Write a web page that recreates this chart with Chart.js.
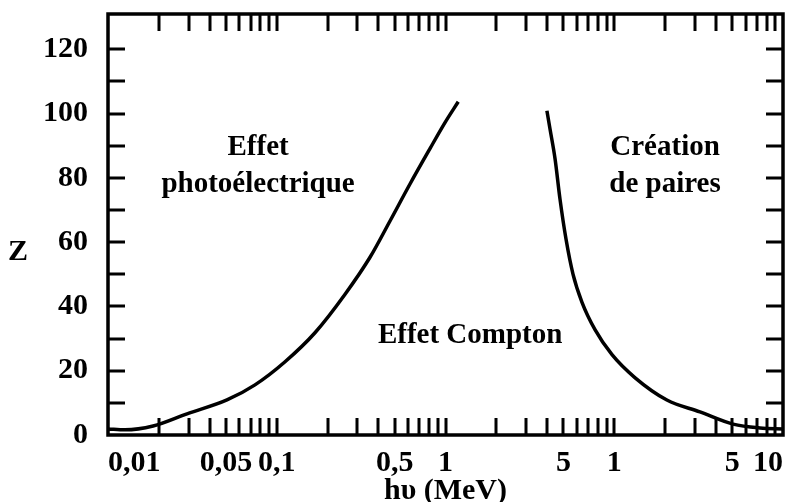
<!DOCTYPE html>
<html>
<head>
<meta charset="utf-8">
<script src="https://cdn.jsdelivr.net/npm/chart.js@4.4.0/dist/chart.umd.min.js"></script>
<style>
  body { margin: 0; background: #fff; }
</style>
</head>
<body>
<canvas id="zChart" width="794" height="502"></canvas>
<script>
// photoelectric / Compton boundary
var leftE = [0.0100, 0.0126, 0.0185, 0.0294, 0.0507, 0.0743, 0.112, 0.169, 0.254, 0.357, 0.469, 0.616, 0.809, 0.993, 1.19];
var leftZ = [1.9, 1.6, 2.8, 6.6, 10.9, 15.6, 22.8, 31.9, 43.8, 55.3, 66.6, 78.1, 89.1, 97.2, 103.7];
// Compton / pair creation boundary
var rightE = [3.99, 4.16, 4.46, 4.77, 5.18, 5.70, 6.44, 7.69, 9.70, 13.3, 20.5, 32.2, 50.6, 73.1, 100];
var rightZ = [100.9, 95.3, 85.9, 73.4, 60.9, 50.0, 41.3, 32.8, 25.0, 17.8, 10.9, 7.2, 3.4, 2.2, 1.9];

var xTickValues = [0.01, 0.05, 0.1, 0.5, 1, 5, 10, 50, 100];
var xTickLabels = ["0,01", "0,05", "0,1", "0,5", "1", "5", "1", "5", "10"];
var yTickValues = [0, 20, 40, 60, 80, 100, 120];

function pts(xs, ys) {
  return xs.map(function (x, i) { return { x: x, y: ys[i] }; });
}

var FONT = '"Liberation Serif", "Times New Roman", serif';

// frame, inward tick marks and the region names
var framePlugin = {
  id: 'frame',
  afterDraw: function (chart, args, opts) {
    var c = chart.ctx, a = chart.chartArea;
    var xs = chart.scales.x, ys = chart.scales.y;
    var len = 17;
    c.save();
    c.strokeStyle = '#000';
    c.lineWidth = 3;
    c.beginPath();
    for (var k = -2; k <= 1; k++) {
      for (var m = 1; m <= 9; m++) {
        var v = m * Math.pow(10, k);
        if (v <= 0.0101) continue;
        var px = Math.round(xs.getPixelForValue(v));
        c.moveTo(px, a.bottom); c.lineTo(px, a.bottom - len);
        c.moveTo(px, a.top); c.lineTo(px, a.top + len);
      }
    }
    for (var z = 10; z <= 120; z += 10) {
      var py = Math.round(ys.getPixelForValue(z));
      c.moveTo(a.left, py); c.lineTo(a.left + len, py);
      c.moveTo(a.right, py); c.lineTo(a.right - len, py);
    }
    c.stroke();
    c.lineWidth = 3.5;
    c.strokeRect(a.left, a.top, a.right - a.left, a.bottom - a.top);

    c.fillStyle = '#000';
    c.textAlign = 'center';
    c.textBaseline = 'middle';
    c.font = 'bold 29px ' + FONT;
    opts.labels.forEach(function (l) {
      c.fillText(l.text, xs.getPixelForValue(l.e), ys.getPixelForValue(l.z));
    });
    c.font = 'bold 30px ' + FONT;
    c.fillText('Z', 18, ys.getPixelForValue(57));
    c.restore();
  }
};

function noPad(scale) {
  scale.paddingTop = 0;
  scale.paddingBottom = 0;
  scale.paddingLeft = 0;
  scale.paddingRight = 0;
}

var ctx = document.getElementById("zChart");
var zChart = new Chart(ctx, {
  type: 'line',
  data: {
    datasets: [{
      label: "photo / Compton",
      data: pts(leftE, leftZ),
      borderColor: "#000",
      borderWidth: 3.5,
      pointRadius: 0,
      fill: false,
      cubicInterpolationMode: 'monotone'
    }, {
      label: "Compton / paires",
      data: pts(rightE, rightZ),
      borderColor: "#000",
      borderWidth: 3.5,
      pointRadius: 0,
      fill: false,
      cubicInterpolationMode: 'monotone'
    }]
  },
  options: {
    responsive: false,
    animation: false,
    devicePixelRatio: 1,
    layout: { padding: { top: 14, right: 11, left: 0, bottom: 0 } },
    plugins: {
      legend: { display: false },
      tooltip: { enabled: false },
      frame: {
        labels: [
          { text: "Effet", e: 0.0775, z: 89.4 },
          { text: "photoélectrique", e: 0.0775, z: 77.8 },
          { text: "Création", e: 20.0, z: 89.4 },
          { text: "de paires", e: 20.0, z: 77.8 },
          { text: "Effet Compton", e: 1.40, z: 31.0 }
        ]
      }
    },
    scales: {
      x: {
        type: 'logarithmic',
        min: 0.01,
        max: 100,
        afterBuildTicks: function (scale) {
          scale.ticks = xTickValues.map(function (v) { return { value: v }; });
        },
        afterFit: function (scale) { scale.height = 67; noPad(scale); },
        grid: { display: false, drawTicks: false, tickLength: 0 },
        border: { display: false },
        ticks: {
          autoSkip: false,
          maxRotation: 0,
          align: 'inner',
          padding: 10,
          color: '#000',
          font: { family: FONT, size: 30, weight: 'bold' },
          callback: function (value, index) { return xTickLabels[index]; }
        },
        title: {
          display: true,
          text: 'hυ (MeV)',
          color: '#000',
          font: { family: FONT, size: 30, weight: 'bold' },
          padding: { top: 0, bottom: -7 }
        }
      },
      y: {
        type: 'linear',
        min: 0,
        max: 131,
        afterBuildTicks: function (scale) {
          scale.ticks = yTickValues.map(function (v) { return { value: v }; });
        },
        afterFit: function (scale) { scale.width = 108; noPad(scale); },
        grid: { display: false, drawTicks: false, tickLength: 0 },
        border: { display: false },
        ticks: {
          padding: 20,
          color: '#000',
          font: { family: FONT, size: 30, weight: 'bold' }
        }
      }
    }
  },
  plugins: [framePlugin]
});
</script>
</body>
</html>
